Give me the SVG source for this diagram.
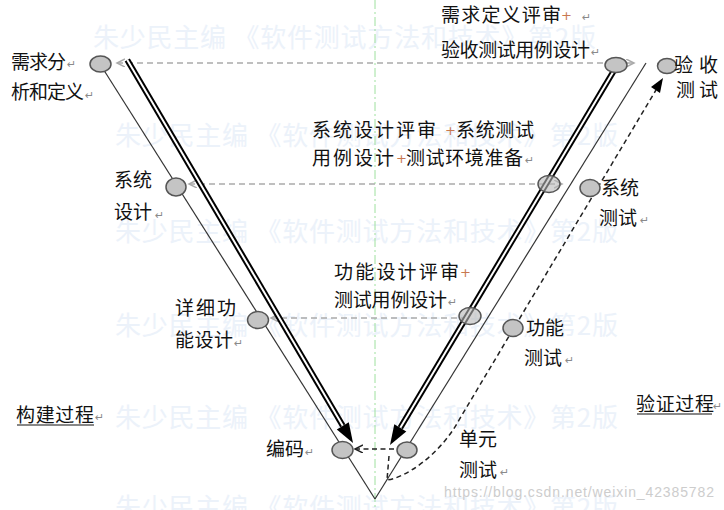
<svg xmlns="http://www.w3.org/2000/svg" width="724" height="510" viewBox="0 0 724 510">
<style>
.lbl { font-family: "Noto Sans CJK SC", "Noto Sans", sans-serif; font-size: 19px; fill: #111; }
.ret { font-family: "DejaVu Sans", sans-serif; font-size: 11px; fill: #8a8a8a; }
.plus { font-family: "DejaVu Sans", sans-serif; font-size: 13px; fill: #c87850; }
.wm { font-family: "Noto Sans CJK SC", sans-serif; font-size: 26px; fill: #ecf2fa; }
.url { font-family: "Liberation Sans", Arial, sans-serif; font-size: 14px; fill: #cdcdcd; }
.node { fill: #c4c4c4; stroke: #555; stroke-width: 1.5; }
.rnode { fill: #b8b8b8; fill-opacity: 0.6; stroke: #555; stroke-width: 1.5; }
.gdash { stroke: #aaa; stroke-width: 1.5; stroke-dasharray: 6 4; fill: none; }
.bdash { stroke: #222; stroke-width: 1.5; stroke-dasharray: 5 3.5; fill: none; }
.thin { stroke: #333; stroke-width: 1.2; fill: none; }
.dblo { stroke: #000; stroke-width: 6; fill: none; }
.dbli { stroke: #fff; stroke-width: 2; fill: none; }
.uline { stroke: #111; stroke-width: 1.2; }
</style>
<defs>
<marker id="gchev" markerUnits="userSpaceOnUse" markerWidth="10" markerHeight="10" refX="8" refY="4" orient="auto-start-reverse" viewBox="0 0 10 10">
<path d="M0,0 L8,4 L0,8" fill="none" stroke="#aaa" stroke-width="1.5"/>
</marker>
<marker id="bchev" markerUnits="userSpaceOnUse" markerWidth="10" markerHeight="10" refX="8" refY="4" orient="auto" viewBox="0 0 10 10">
<path d="M0,0 L8,4 L0,8" fill="none" stroke="#222" stroke-width="1.5"/>
</marker>
</defs>
<rect width="724" height="510" fill="#fff"/>

<g id="watermarks">
<text class="wm" x="93" y="47" textLength="503">朱少民主编 《软件测试方法和技术》第2版</text>
<text class="wm" x="115" y="145" textLength="503">朱少民主编 《软件测试方法和技术》第2版</text>
<text class="wm" x="115" y="241" textLength="503">朱少民主编 《软件测试方法和技术》第2版</text>
<text class="wm" x="115" y="335" textLength="503">朱少民主编 《软件测试方法和技术》第2版</text>
<text class="wm" x="115" y="427" textLength="503">朱少民主编 《软件测试方法和技术》第2版</text>
<text class="wm" x="115" y="517" textLength="503">朱少民主编 《软件测试方法和技术》第2版</text>
</g>

<line x1="375" y1="0" x2="375" y2="510" stroke="#9ee09e" stroke-width="1" stroke-dasharray="9 3 2 3"/>

<g id="connectors">
<line class="gdash" x1="117" y1="63" x2="634" y2="63" marker-start="url(#gchev)" marker-end="url(#gchev)"/>
<line class="gdash" x1="189" y1="184" x2="562" y2="184" marker-start="url(#gchev)" marker-end="url(#gchev)"/>
<line class="gdash" x1="271" y1="318" x2="470" y2="318" marker-start="url(#gchev)"/>
<line class="thin" x1="100" y1="64" x2="375" y2="499"/>
<line class="thin" x1="375" y1="499" x2="646" y2="63"/>
<line class="bdash" x1="394" y1="449" x2="355" y2="449" marker-end="url(#bchev)"/>
<path class="bdash" d="M389 456 L387 480 C405 478 440 455 459 420 L656 90"/>
<polygon points="663,78 660,93 651,87" fill="#000"/>
<path class="dblo" d="M127.3 60 L342.8 425.8"/>
<path class="dbli" d="M127.3 60 L342.8 425.8"/>
<polygon points="353,443 348.8,422.2 336.8,429.4" fill="#000"/>
<path class="dblo" d="M616.7 66 L400.3 427.8"/>
<path class="dbli" d="M616.7 66 L400.3 427.8"/>
<polygon points="390,445 406.3,431.4 394.3,424.2" fill="#000"/>
</g>

<g id="n-req">
<ellipse class="node" cx="100.5" cy="64" rx="10.5" ry="8"/>
<text class="lbl" x="11" y="69" textLength="55">需求分</text><text class="ret" x="67" y="68">↵</text>
<text class="lbl" x="11" y="99" textLength="73">析和定义</text><text class="ret" x="85" y="99">↵</text>
</g>
<g id="n-sysdesign">
<ellipse class="node" cx="176" cy="187" rx="10" ry="9"/>
<text class="lbl" x="114" y="187">系统</text>
<text class="lbl" x="114" y="219">设计</text><text class="ret" x="155" y="219">↵</text>
</g>
<g id="n-detail">
<ellipse class="node" cx="258" cy="320" rx="10.5" ry="8.5"/>
<text class="lbl" x="175" y="315" textLength="61">详细功</text>
<text class="lbl" x="175" y="347" textLength="58">能设计</text><text class="ret" x="234" y="347">↵</text>
</g>
<g id="n-code">
<ellipse class="node" cx="342.5" cy="450" rx="10.5" ry="8.5"/>
<text class="lbl" x="266" y="456">编码</text><text class="ret" x="305" y="456">↵</text>
</g>
<g id="n-build">
<text class="lbl" x="16" y="422" textLength="78">构建过程</text><text class="ret" x="95" y="421">↵</text>
<line class="uline" x1="17" y1="425" x2="94" y2="425"/>
</g>

<g id="n-reqreview">
<ellipse class="node" cx="616" cy="65" rx="11" ry="7.5"/>
<text class="lbl" x="441" y="22" textLength="120">需求定义评审</text><text class="plus" x="561" y="20">+</text><text class="ret" x="582" y="21">↵</text>
<text class="lbl" x="441" y="57" textLength="149">验收测试用例设计</text><text class="ret" x="591" y="56">↵</text>
</g>
<g id="n-sysreview">
<ellipse class="rnode" cx="549" cy="184" rx="11" ry="8.5"/>
<text class="lbl" x="312" y="137" textLength="124">系统设计评审</text><text class="plus" x="445" y="135">+</text><text class="lbl" x="456" y="137" textLength="78">系统测试</text>
<text class="lbl" x="312" y="165" textLength="82">用例设计</text><text class="plus" x="396" y="163">+</text><text class="lbl" x="406" y="165" textLength="117">测试环境准备</text><text class="ret" x="525" y="164">↵</text>
</g>
<g id="n-funcreview">
<ellipse class="rnode" cx="470" cy="316" rx="11" ry="8.5"/>
<text class="lbl" x="334" y="279" textLength="125">功能设计评审</text><text class="plus" x="460" y="277">+</text>
<text class="lbl" x="334" y="307" textLength="113">测试用例设计</text><text class="ret" x="448" y="306">↵</text>
</g>

<g id="n-accept">
<ellipse class="node" cx="667" cy="66" rx="9.5" ry="7.5"/>
<text class="lbl" x="674" y="72">验</text><text class="lbl" x="699" y="72">收</text>
<text class="lbl" x="676" y="97">测</text><text class="lbl" x="699" y="97">试</text>
</g>
<g id="n-systest">
<ellipse class="node" cx="590" cy="188" rx="10" ry="8.5"/>
<text class="lbl" x="601" y="195">系统</text>
<text class="lbl" x="599" y="225">测试</text><text class="ret" x="640" y="224">↵</text>
</g>
<g id="n-functest">
<ellipse class="node" cx="513" cy="328" rx="10" ry="8.5"/>
<text class="lbl" x="526" y="335">功能</text>
<text class="lbl" x="524" y="365">测试</text><text class="ret" x="565" y="364">↵</text>
</g>
<g id="n-unittest">
<ellipse class="node" cx="407" cy="450" rx="10" ry="8"/>
<text class="lbl" x="459" y="446">单元</text>
<text class="lbl" x="459" y="477">测试</text><text class="ret" x="500" y="476">↵</text>
</g>
<g id="n-verify">
<text class="lbl" x="636" y="411" textLength="78">验证过程</text><text class="ret" x="713" y="410">↵</text>
<line class="uline" x1="637" y1="414" x2="712" y2="414"/>
</g>

<text class="url" x="444" y="497" textLength="270">https://blog.csdn.net/weixin_42385782</text>
</svg>
